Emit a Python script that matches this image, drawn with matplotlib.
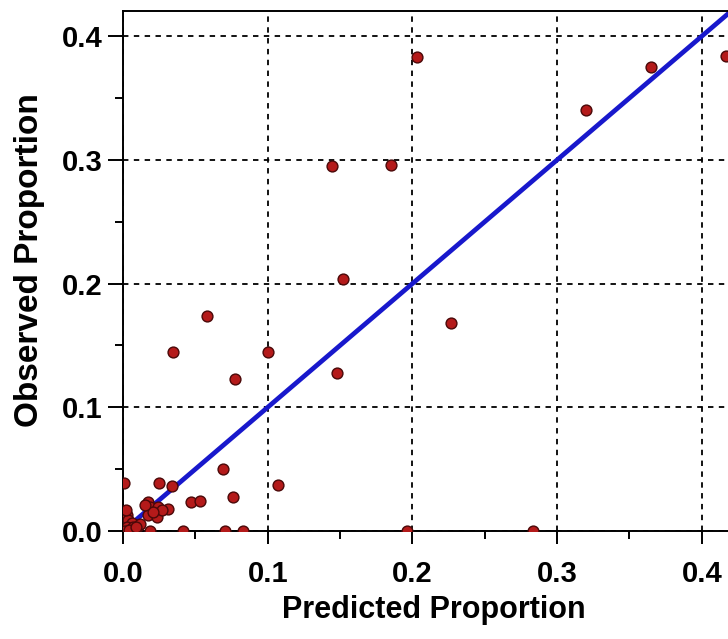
import numpy as np
import matplotlib.pyplot as plt
from matplotlib.ticker import MultipleLocator

plt.rcParams['font.family'] = ['Liberation Sans', 'DejaVu Sans']
plt.rcParams['font.weight'] = 'bold'

# predicted vs observed proportions
predicted = [0.203, 0.1447, 0.185, 0.320, 0.365, 0.417, 0.152, 0.227,
             0.0583, 0.0348, 0.100, 0.0774, 0.148, 0.0689, 0.107, 0.0249,
             0.034, 0.0468, 0.0532, 0.0762, 0.001, 0.0175, 0.0187, 0.0244,
             0.0313, 0.0175, 0.0233, 0.0267, 0.0026, 0.0037, 0.006, 0.0106,
             0.0026, 0.0071, 0.0187, 0.0417, 0.0705, 0.0827, 0.196, 0.2836,
             0.001, 0.004, 0.012, 0.021, 0.015, 0.009, 0.002]
observed = [0.383, 0.295, 0.296, 0.340, 0.375, 0.384, 0.204, 0.168,
            0.174, 0.145, 0.145, 0.123, 0.128, 0.050, 0.0375, 0.039,
            0.036, 0.0234, 0.0245, 0.0272, 0.0385, 0.0237, 0.0197, 0.0197,
            0.0175, 0.0129, 0.0116, 0.017, 0.0129, 0.0089, 0.0062, 0.004,
            0.0035, 0.003, 0.0, 0.0, 0.0, 0.0, 0.0, 0.0,
            0.0, 0.001, 0.006, 0.015, 0.021, 0.003, 0.017]

xticks = [0.0, 0.1, 0.2, 0.3, 0.4]
yticks = [0.0, 0.1, 0.2, 0.3, 0.4]
xmax = 0.43
ymax = 0.4204

fig = plt.figure(figsize=(7.28, 6.39), dpi=100)
ax = fig.add_axes([123 / 728, 108 / 639, xmax * 1447 / 728, ymax * 1237 / 639])

ax.grid(True, which='major', color='black', linestyle=(0, (3, 3)), linewidth=1.3)
ax.set_axisbelow(True)

# 1:1 reference line
ref = np.array([0.0, xmax])
ax.plot(ref, ref, color='#1818cc', linewidth=3.4, zorder=2)

ax.plot(predicted, observed, 'o', markersize=7.8, markerfacecolor='#b41a1a',
        markeredgecolor='#4a0808', markeredgewidth=1.0, zorder=3)

ax.set_xlim(0, xmax)
ax.set_ylim(0, ymax)
ax.set_xticks(xticks)
ax.set_yticks(yticks)
ax.set_xticklabels([f'{t:.1f}' for t in xticks])
ax.set_yticklabels([f'{t:.1f}' for t in yticks])
ax.xaxis.set_minor_locator(MultipleLocator(0.05))
ax.yaxis.set_minor_locator(MultipleLocator(0.05))

ax.tick_params(axis='x', which='major', direction='out', length=9, width=1.4,
               pad=12, labelsize=21)
ax.tick_params(axis='y', which='major', direction='out', length=11, width=1.4,
               pad=4, labelsize=21)
ax.tick_params(which='minor', direction='out', length=6, width=1.4)
for s in ax.spines.values():
    s.set_linewidth(1.4)

ax.set_xlabel('Predicted Proportion', fontsize=22, fontweight='bold', labelpad=5)
ax.set_ylabel('Observed Proportion', fontsize=24, fontweight='bold')
ax.yaxis.set_label_coords(-0.126, 0.521)

fig.savefig('out.png', dpi=100)
